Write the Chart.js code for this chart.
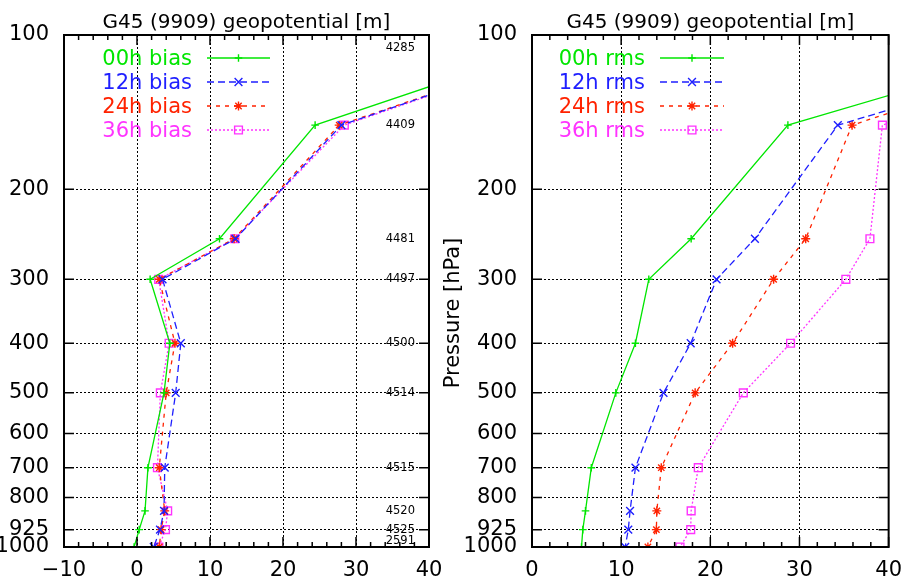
<!DOCTYPE html>
<html>
<head>
<meta charset="utf-8">
<script src="https://cdn.jsdelivr.net/npm/chart.js@4.4.1/dist/chart.umd.min.js"></script>
<style>
html, body { margin: 0; padding: 0; background: #fff; }
#wrap { position: relative; width: 913px; height: 584px; overflow: hidden; }
canvas { position: absolute; top: 0; }
</style>
</head>
<body>
<div id="wrap">
  <canvas id="biasChart" width="470" height="584" style="left:0"></canvas>
  <canvas id="rmsChart" width="473" height="584" style="left:440px"></canvas>
</div>
<script>
// DATA
const levels = [100, 150, 250, 300, 400, 500, 700, 850, 925, 1000];
const pressureTicks = [100, 200, 300, 400, 500, 600, 700, 800, 925, 1000];
const obsCounts = ["4285", "4409", "4481", "4497", "4500", "4514", "4515", "4520", "4525", "2591"];

const biasNames = ["00h bias", "12h bias", "24h bias", "36h bias"];
const bias00 = [61, 24.4, 11.3, 1.8, 4.5, 3.7, 1.5, 1.1, 0.3, -0.4];
const bias12 = [64, 28.0, 13.5, 3.5, 6.0, 5.3, 3.8, 3.7, 3.15, 2.3];
const bias24 = [64, 27.7, 13.3, 3.05, 5.2, 4.0, 3.05, 3.8, 3.3, 3.05];
const bias36 = [64, 28.4, 13.4, 2.97, 4.4, 3.2, 2.8, 4.2, 3.9, 3.0];

const rmsNames = ["00h rms", "12h rms", "24h rms", "36h rms"];
const rms00 = [63, 28.7, 17.85, 13.1, 11.6, 9.4, 6.65, 6.0, 5.7, 5.55];
const rms12 = [68, 34.3, 25.0, 20.7, 17.8, 14.75, 11.6, 11.0, 10.8, 10.45];
const rms24 = [66.7, 35.9, 30.7, 27.1, 22.5, 18.3, 14.5, 14.0, 13.95, 13.0];
const rms36 = [69, 39.3, 37.9, 35.2, 29.0, 23.7, 18.65, 17.85, 17.8, 16.6];

const titleText = "G45 (9909) geopotential [m]";
const yTitleText = "Pressure [hPa]";
const FONT = "'DejaVu Sans', sans-serif";

// line / marker styles per forecast hour
const styles = [
    { color: "#00e600", dash: [], point: "cross", radius: 3.8 },
    { color: "#1f1fff", dash: [7, 4], point: "crossRot", radius: 5.5 },
    { color: "#ff2200", dash: [4, 5], point: "star", radius: 4.5 },
    { color: "#ff33ff", dash: [2, 2], point: "rect", radius: 5.5 }
];

function makeDatasets(names, series) {
    return series.map((vals, i) => ({
        label: names[i],
        data: levels.map((p, k) => ({ x: vals[k], y: p })),
        borderColor: styles[i].color,
        borderWidth: 1.3,
        borderDash: styles[i].dash,
        pointStyle: styles[i].point,
        pointRadius: styles[i].radius,
        pointBorderWidth: 1.4,
        pointBorderColor: styles[i].color,
        pointBackgroundColor: "transparent",
        fill: false,
        tension: 0
    }));
}

// BORDER + INWARD TICKS (gnuplot look)
const framePlugin = {
    id: "frame",
    afterDatasetsDraw(chart) {
        const { ctx, chartArea: a, scales: { x, y } } = chart;
        ctx.save();
        ctx.strokeStyle = "#000";
        ctx.setLineDash([]);
        ctx.lineWidth = 1.5;
        ctx.beginPath();
        for (let v = x.min; v <= x.max; v += 2) {
            let px = x.getPixelForValue(v);
            let len = v % 10 === 0 ? 10 : 5;
            ctx.moveTo(px, a.bottom); ctx.lineTo(px, a.bottom - len);
            ctx.moveTo(px, a.top); ctx.lineTo(px, a.top + len);
        }
        pressureTicks.forEach(p => {
            let py = y.getPixelForValue(p);
            ctx.moveTo(a.left, py); ctx.lineTo(a.left + 10, py);
            ctx.moveTo(a.right, py); ctx.lineTo(a.right - 10, py);
        });
        ctx.stroke();
        ctx.lineWidth = 2;
        ctx.strokeRect(a.left, a.top, a.right - a.left, a.bottom - a.top);
        ctx.restore();
    }
};

// TITLE, KEY, COUNTS, AXIS TITLE
const decorPlugin = {
    id: "decor",
    afterDraw(chart, args, opts) {
        const { ctx, chartArea: a, scales: { y } } = chart;
        ctx.save();

        // title
        ctx.fillStyle = "#000";
        ctx.font = "20px " + FONT;
        ctx.textAlign = "center";
        ctx.textBaseline = "alphabetic";
        ctx.fillText(titleText, (a.left + a.right) / 2, 27.5);

        // key
        chart.data.datasets.forEach((ds, i) => {
            let base = 65 + 24 * i;
            let ly = base - 7;
            ctx.font = "21px " + FONT;
            ctx.textAlign = "right";
            ctx.fillStyle = ds.borderColor;
            ctx.fillText(ds.label, opts.textRight, base);

            ctx.strokeStyle = ds.borderColor;
            ctx.lineWidth = ds.borderWidth;
            ctx.setLineDash(ds.borderDash);
            ctx.beginPath();
            ctx.moveTo(opts.lineStart, ly);
            ctx.lineTo(opts.lineEnd, ly);
            ctx.stroke();

            ctx.setLineDash([]);
            ctx.lineWidth = ds.pointBorderWidth;
            ctx.fillStyle = "transparent";
            if (Chart.helpers && Chart.helpers.drawPoint) {
                Chart.helpers.drawPoint(ctx, {
                    pointStyle: ds.pointStyle,
                    radius: ds.pointRadius,
                    rotation: 0,
                    borderWidth: ds.pointBorderWidth
                }, opts.marker, ly);
            }
        });

        // observation counts
        if (opts.counts) {
            ctx.font = "11.5px " + FONT;
            ctx.fillStyle = "#000";
            ctx.textAlign = "right";
            ctx.textBaseline = "middle";
            levels.forEach((p, i) => {
                let py = y.getPixelForValue(p);
                py = Math.max(a.top + 13, Math.min(a.bottom - 6, py));
                ctx.fillText(obsCounts[i], a.right - 14, py);
            });
        }

        // y axis title
        if (opts.yTitle) {
            ctx.font = "21px " + FONT;
            ctx.fillStyle = "#000";
            ctx.textAlign = "center";
            ctx.textBaseline = "middle";
            ctx.translate(opts.yTitleX, 313);
            ctx.rotate(-Math.PI / 2);
            ctx.fillText(yTitleText, 0, 0);
        }
        ctx.restore();
    }
};

function chartOptions(xMin, yWidth, padRight, decor) {
    return {
        responsive: false,
        animation: false,
        events: [],
        layout: { padding: { top: 35, right: padRight, left: 0, bottom: 0 } },
        plugins: {
            legend: { display: false },
            tooltip: { enabled: false },
            decor: decor
        },
        scales: {
            x: {
                type: "linear",
                min: xMin,
                max: 40,
                afterFit: s => { s.height = 37; },
                ticks: {
                    stepSize: 10,
                    padding: 11,
                    color: "#000",
                    font: { family: FONT, size: 21 },
                    callback: v => v < 0 ? "\u2212" + Math.abs(v) : String(v)
                },
                grid: { color: "#000", lineWidth: 1, drawTicks: false },
                border: { display: false, dash: [2, 2] }
            },
            y: {
                type: "logarithmic",
                reverse: true,
                min: 100,
                max: 1000,
                afterFit: s => { s.width = yWidth; },
                afterBuildTicks: s => { s.ticks = pressureTicks.map(v => ({ value: v })); },
                ticks: {
                    autoSkip: false,
                    padding: 15,
                    color: "#000",
                    font: { family: FONT, size: 21 },
                    callback: v => String(v)
                },
                grid: { color: "#000", lineWidth: 1, drawTicks: false },
                border: { display: false, dash: [2, 2] }
            }
        }
    };
}

new Chart(document.getElementById("biasChart"), {
    type: "line",
    data: { datasets: makeDatasets(biasNames, [bias00, bias12, bias24, bias36]) },
    options: chartOptions(-10, 64, 41, {
        textRight: 192, lineStart: 207, lineEnd: 270, marker: 238.5, counts: true
    }),
    plugins: [framePlugin, decorPlugin]
});

new Chart(document.getElementById("rmsChart"), {
    type: "line",
    data: { datasets: makeDatasets(rmsNames, [rms00, rms12, rms24, rms36]) },
    options: chartOptions(0, 92, 16, {
        textRight: 205, lineStart: 220, lineEnd: 284, marker: 252, yTitle: true, yTitleX: 14
    }),
    plugins: [framePlugin, decorPlugin]
});
</script>
</body>
</html>
